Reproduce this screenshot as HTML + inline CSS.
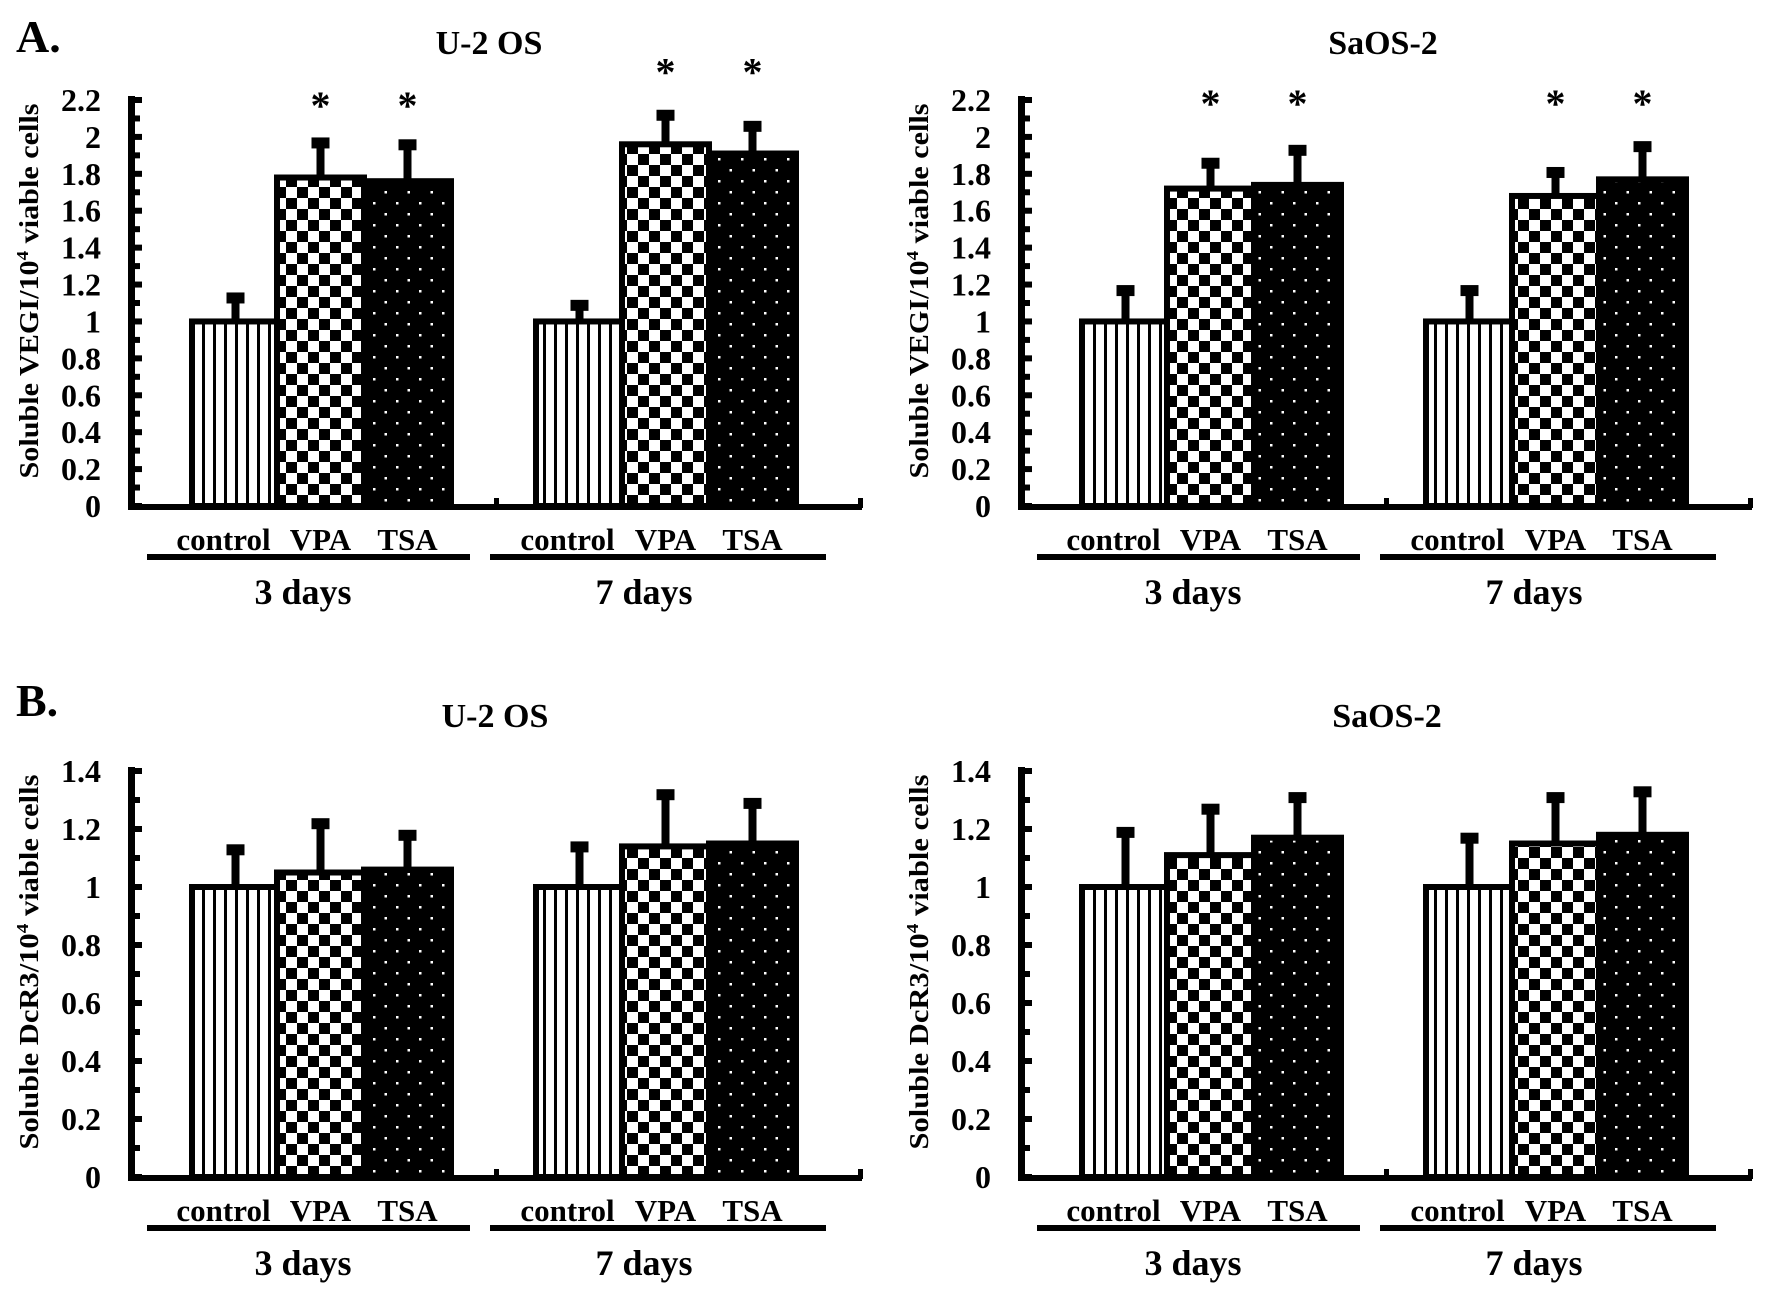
<!DOCTYPE html>
<html><head><meta charset="utf-8">
<style>
html,body{margin:0;padding:0;background:#fff;}
svg{display:block;}
text{font-family:"Liberation Serif",serif;font-weight:bold;fill:#000;}
</style></head>
<body>
<svg id="fig" width="1772" height="1300" viewBox="0 0 1772 1300" xmlns="http://www.w3.org/2000/svg">
<defs>
<pattern id="pVert" width="11" height="11" patternUnits="userSpaceOnUse">
<rect width="11" height="11" fill="#fff"/><rect x="4" width="3" height="11" fill="#000"/>
</pattern>
<pattern id="pCheck" width="22" height="22" patternUnits="userSpaceOnUse">
<rect width="22" height="22" fill="#fff"/><rect width="11" height="11" fill="#000"/><rect x="11" y="11" width="11" height="11" fill="#000"/>
</pattern>
<pattern id="pDots" width="23" height="22" patternUnits="userSpaceOnUse">
<rect width="23" height="22" fill="#000"/><rect x="5" y="4" width="2.5" height="2.5" fill="#fff"/><rect x="16.5" y="15" width="2.5" height="2.5" fill="#fff"/>
</pattern>
</defs>
<text x="16" y="52" font-size="46">A.</text>
<text x="16" y="716" font-size="46">B.</text>
</svg>
<script>
// Panel A: soluble VEGI
const vegiU2Values = [1, 1.78, 1.76, 1, 1.96, 1.91];
const vegiU2Errors = [1.13, 1.97, 1.96, 1.09, 2.12, 2.06];
const vegiU2Stars = [null, 2.19, 2.19, null, 2.37, 2.37];
const vegiSaValues = [1, 1.72, 1.74, 1, 1.68, 1.77];
const vegiSaErrors = [1.17, 1.86, 1.93, 1.17, 1.81, 1.95];
const vegiSaStars = [null, 2.2, 2.2, null, 2.2, 2.2];
// Panel B: soluble DcR3
const dcr3U2Values = [1, 1.05, 1.06, 1, 1.14, 1.15];
const dcr3U2Errors = [1.13, 1.22, 1.18, 1.14, 1.32, 1.29];
const dcr3SaValues = [1, 1.11, 1.17, 1, 1.15, 1.18];
const dcr3SaErrors = [1.19, 1.27, 1.31, 1.17, 1.31, 1.33];
const treatments = ["control", "VPA", "TSA"];
const timepoints = ["3 days", "7 days"];
const vegiTicks = ["0","0.2","0.4","0.6","0.8","1","1.2","1.4","1.6","1.8","2","2.2"];
const dcr3Ticks = ["0","0.2","0.4","0.6","0.8","1","1.2","1.4"];

const NS = "http://www.w3.org/2000/svg";
const svg = document.getElementById('fig');
function mk(tag, attrs, parent) {
  const e = document.createElementNS(NS, tag);
  for (const k in attrs) e.setAttribute(k, attrs[k]);
  (parent || svg).appendChild(e);
  return e;
}
const fills = ["url(#pVert)", "url(#pCheck)", "url(#pDots)"];

function panel(o) {
  const g = mk('g', {});
  
  
  const ax = o.ax, top = o.top, base = o.base, ymax = o.ymax;
  const y = v => base - (v / ymax) * (base - top);
  const t = mk('text', {x: o.titleX, y: o.titleY, 'font-size': 34, 'text-anchor': 'middle'}, g);
  t.textContent = o.title;
  
  
  const yt = mk('text', {transform: `translate(${ax - 94},${(top + base) / 2 - 12}) rotate(-90)`, 'font-size': 27, 'text-anchor': 'middle', textLength: 375, lengthAdjust: 'spacingAndGlyphs'}, g);
  
  
  yt.appendChild(document.createTextNode(o.ylab1 + '/10'));
  const sup = mk('tspan', {dy: -10, 'font-size': 17}, yt); sup.textContent = '4';
  const rest = mk('tspan', {dy: 10}, yt); rest.textContent = ' viable cells';
  const offs = [60, 145, 232, 404, 490, 577];
  const bw = 87;
  for (let i = 0; i < 6; i++) {
    const x = ax + offs[i];
    const v = o.values[i], e = o.errors[i];
    const ex = x + bw / 2;
    const st = mk('rect', {x: ex - 4, y: y(e), width: 8, height: y(v) - y(e), fill: '#000'}, g);
    
    
    const cap = mk('rect', {x: ex - 9, y: y(e) - 5, width: 18, height: 11, fill: '#000'}, g);
    
    
    const b = mk('rect', {x: x, y: y(v), width: bw, height: base - y(v), fill: fills[i % 3], stroke: '#000', 'stroke-width': 6}, g);
    
    
    if (o.stars && o.stars[i] != null) {
      const s = mk('text', {x: ex, y: y(o.stars[i]) + 17, 'font-size': 40, 'text-anchor': 'middle', 'font-weight': 'normal'}, g);
      s.textContent = '*';
      
      
    }
  }
  const ya = mk('rect', {x: ax - 4, y: top - 4, width: 7, height: base - top + 8, fill: '#000'}, g);
  
  
  const xa = mk('rect', {x: ax - 4, y: base - 2, width: 734, height: 6, fill: '#000'}, g);
  
  
  [ax + 362, ax + 726].forEach(tx => mk('rect', {x: tx, y: base - 8, width: 5, height: 10, fill: '#000'}, g));
  const n = Math.round(ymax / 0.1);
  for (let k = 0; k <= n; k++) {
    const ty = y(k * 0.1);
    const tk = mk('rect', {x: ax + 2, y: ty - 3, width: k % 2 === 0 ? 8 : 6, height: 6, fill: '#000'}, g);
    
    
  }
  o.ticks.forEach(lbl => {
    const tl = mk('text', {x: ax - 31, y: y(parseFloat(lbl)) + 11, 'font-size': 32, 'text-anchor': 'end'}, g);
    tl.textContent = lbl;
    
    
  });
  for (let i = 0; i < 6; i++) {
    const cx = ax + offs[i] + bw / 2 + (i % 3 === 0 ? -12 : 0);
    const cl = mk('text', {x: cx, y: o.labY, 'font-size': 31, 'text-anchor': 'middle'}, g);
    cl.textContent = treatments[i % 3];
    
    
  }
  [[15, 338, 171], [358, 694, 512]].forEach((r, j) => {
    const ln = mk('rect', {x: ax + r[0], y: o.lineY - 3, width: r[1] - r[0], height: 6, fill: '#000'}, g);
    
    
    const dl = mk('text', {x: ax + r[2], y: o.dayY, 'font-size': 36, 'text-anchor': 'middle'}, g);
    dl.textContent = timepoints[j];
    
    
  });
}

panel({name: 'chart-vegi-u2os', title: 'U-2 OS', titleX: 489, titleY: 54, ax: 132, top: 100, base: 506, ymax: 2.2,
  values: vegiU2Values, errors: vegiU2Errors, stars: vegiU2Stars, ticks: vegiTicks, ylab1: 'Soluble VEGI',
  labY: 550, lineY: 557, dayY: 604});
panel({name: 'chart-vegi-saos2', title: 'SaOS-2', titleX: 1383, titleY: 54, ax: 1022, top: 100, base: 506, ymax: 2.2,
  values: vegiSaValues, errors: vegiSaErrors, stars: vegiSaStars, ticks: vegiTicks, ylab1: 'Soluble VEGI',
  labY: 550, lineY: 557, dayY: 604});
panel({name: 'chart-dcr3-u2os', title: 'U-2 OS', titleX: 495, titleY: 727, ax: 132, top: 771, base: 1177, ymax: 1.4,
  values: dcr3U2Values, errors: dcr3U2Errors, ticks: dcr3Ticks, ylab1: 'Soluble DcR3',
  labY: 1221, lineY: 1228, dayY: 1275});
panel({name: 'chart-dcr3-saos2', title: 'SaOS-2', titleX: 1387, titleY: 727, ax: 1022, top: 771, base: 1177, ymax: 1.4,
  values: dcr3SaValues, errors: dcr3SaErrors, ticks: dcr3Ticks, ylab1: 'Soluble DcR3',
  labY: 1221, lineY: 1228, dayY: 1275});
</script>
</body></html>
